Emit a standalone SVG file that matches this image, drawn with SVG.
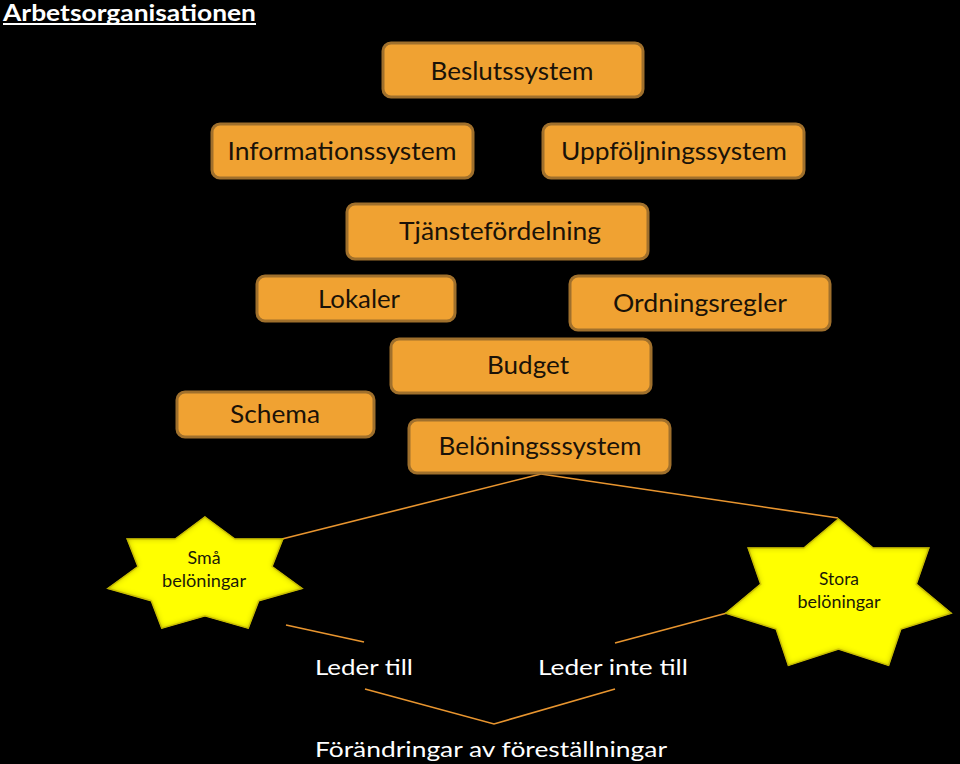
<svg xmlns="http://www.w3.org/2000/svg" width="960" height="764" viewBox="0 0 960 764">
  <defs>
    <style>
      .box { fill: #F0A232; stroke: #A0702C; stroke-width: 3; }
      .bt { font-family: Lato, "Open Sans", sans-serif; font-size: 25px; fill: #1a1208; text-anchor: middle; }
      .star { fill: #FFFF00; stroke: #E0D400; stroke-width: 1.5; filter: url(#bevel); }
      .st { font-family: Lato, "Open Sans", sans-serif; font-size: 18px; fill: #1a1a08; text-anchor: middle; }
      .wt { font-family: Lato, "Open Sans", sans-serif; font-size: 21px; fill: #ffffff; }
      .con { stroke: #E8952F; stroke-width: 1.6; fill: none; }
    </style>
    <filter id="bevel" x="-10%" y="-10%" width="120%" height="120%">
      <feGaussianBlur in="SourceAlpha" stdDeviation="3" result="blur"/>
      <feComposite in="SourceAlpha" in2="blur" operator="arithmetic" k2="1" k3="-1" result="edge"/>
      <feFlood flood-color="#9A9000" flood-opacity="0.9" result="col"/>
      <feComposite in="col" in2="edge" operator="in" result="shade"/>
      <feMerge><feMergeNode in="SourceGraphic"/><feMergeNode in="shade"/></feMerge>
    </filter>
  </defs>
  <rect x="0" y="0" width="960" height="764" fill="#000000"/>

  <g id="title">
    <text x="3" y="21" font-family="Lato, 'Open Sans', sans-serif" font-size="22" font-weight="bold" fill="#ffffff" textLength="253" lengthAdjust="spacingAndGlyphs">Arbetsorganisationen</text>
    <rect x="3" y="23" width="253" height="2" fill="#ffffff"/>
  </g>

  <g id="connectors">
    <line class="con" x1="541" y1="474" x2="282" y2="539"/>
    <line class="con" x1="541" y1="474" x2="838" y2="518"/>
    <line class="con" x1="286" y1="625" x2="364" y2="642"/>
    <line class="con" x1="615" y1="643" x2="727" y2="613"/>
    <polyline class="con" points="365,689 494,724 615,689"/>
  </g>

  <g id="beslutssystem">
    <rect class="box" x="383" y="43" width="260" height="54" rx="8"/>
    <text class="bt" x="512" y="80" textLength="163" lengthAdjust="spacingAndGlyphs">Beslutssystem</text>
  </g>
  <g id="informationssystem">
    <rect class="box" x="212" y="124" width="261" height="54" rx="8"/>
    <text class="bt" x="342" y="160" textLength="229" lengthAdjust="spacingAndGlyphs">Informationssystem</text>
  </g>
  <g id="uppfoljningssystem">
    <rect class="box" x="543" y="124" width="261" height="54" rx="8"/>
    <text class="bt" x="674" y="160" textLength="226" lengthAdjust="spacingAndGlyphs">Uppföljningssystem</text>
  </g>
  <g id="tjanstefordelning">
    <rect class="box" x="347" y="204" width="301" height="55" rx="8"/>
    <text class="bt" x="500" y="240" textLength="202" lengthAdjust="spacingAndGlyphs">Tjänstefördelning</text>
  </g>
  <g id="lokaler">
    <rect class="box" x="257" y="276" width="198" height="45" rx="8"/>
    <text class="bt" x="359" y="308" textLength="82" lengthAdjust="spacingAndGlyphs">Lokaler</text>
  </g>
  <g id="ordningsregler">
    <rect class="box" x="570" y="276" width="260" height="54" rx="8"/>
    <text class="bt" x="700" y="312" textLength="174" lengthAdjust="spacingAndGlyphs">Ordningsregler</text>
  </g>
  <g id="budget">
    <rect class="box" x="391" y="339" width="260" height="54" rx="8"/>
    <text class="bt" x="528" y="374" textLength="82" lengthAdjust="spacingAndGlyphs">Budget</text>
  </g>
  <g id="schema">
    <rect class="box" x="177" y="392" width="197" height="45" rx="8"/>
    <text class="bt" x="275" y="423" textLength="90" lengthAdjust="spacingAndGlyphs">Schema</text>
  </g>
  <g id="beloningssystem">
    <rect class="box" x="409" y="420" width="261" height="53" rx="8"/>
    <text class="bt" x="540" y="455" textLength="203" lengthAdjust="spacingAndGlyphs">Belöningsssystem</text>
  </g>

  <g id="sma-beloningar">
    <polygon class="star" points="205,517 234.8,539.1 282.8,539 272,566.5 302,588.5 258.7,600.7 248.2,628.2 205,615.9 161.8,628.2 151.3,600.7 108,588.5 138,566.5 127.2,539 175.2,539.1"/>
    <text class="st" x="204" y="564" textLength="33" lengthAdjust="spacingAndGlyphs">Små</text>
    <text class="st" x="204" y="587" textLength="84" lengthAdjust="spacingAndGlyphs">belöningar</text>
  </g>
  <g id="stora-beloningar">
    <polygon class="star" points="838.5,519 873.1,548.1 928.8,548 916.2,584.2 951.1,613.1 900.8,629.1 888.6,665.4 838.5,649.1 788.4,665.4 776.2,629.1 725.9,613.1 760.8,584.2 748.2,548 803.9,548.1"/>
    <text class="st" x="839" y="585" textLength="40" lengthAdjust="spacingAndGlyphs">Stora</text>
    <text class="st" x="839" y="608" textLength="83" lengthAdjust="spacingAndGlyphs">belöningar</text>
  </g>

  <g id="leder-till">
    <text class="wt" x="315" y="675" textLength="98" lengthAdjust="spacingAndGlyphs">Leder till</text>
  </g>
  <g id="leder-inte-till">
    <text class="wt" x="538" y="675" textLength="150" lengthAdjust="spacingAndGlyphs">Leder inte till</text>
  </g>
  <g id="forandringar">
    <text class="wt" x="315" y="757" textLength="352" lengthAdjust="spacingAndGlyphs">Förändringar av föreställningar</text>
  </g>
</svg>
